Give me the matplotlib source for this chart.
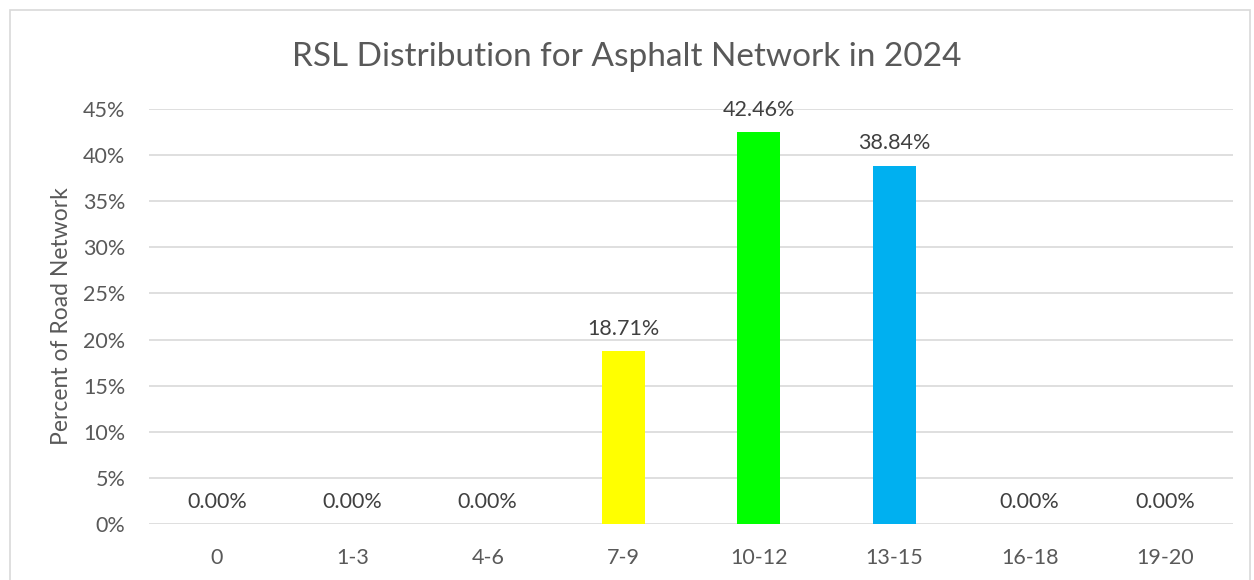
import matplotlib
matplotlib.use("Agg")
import matplotlib.pyplot as plt
from matplotlib.patches import Rectangle
from matplotlib.ticker import FuncFormatter, MultipleLocator

categories = ["0", "1-3", "4-6", "7-9", "10-12", "13-15", "16-18", "19-20"]
values = [0.00, 0.00, 0.00, 18.71, 42.46, 38.84, 0.00, 0.00]
colors = ["#4472C4", "#4472C4", "#4472C4", "#FFFF00", "#00FF00", "#00B0F0", "#4472C4", "#4472C4"]
title = "RSL Distribution for Asphalt Network in 2024"
ylabel = "Percent of Road Network"

plt.rcParams['font.family'] = ['Lato', 'DejaVu Sans']
txt = "#595959"

W, H = 1254, 580
fig = plt.figure(figsize=(W / 100, H / 100), dpi=100)
fig.patch.set_facecolor("white")
fig.patches.append(Rectangle((10 / W, -0.1), (1250 - 10) / W, (H - 10) / H + 0.1,
                             transform=fig.transFigure, fill=False, edgecolor="#D9D9D9", lw=1.2))

left, right, top, bottom = 149, 1233, 109, 524
ax = fig.add_axes([left / W, 1 - bottom / H, (right - left) / W, (bottom - top) / H])
x = list(range(len(categories)))
ax.bar(x, values, width=0.32, color=colors, zorder=3)
ax.set_xlim(-0.5, len(categories) - 0.5)
ax.set_ylim(0, 45)
ax.yaxis.set_major_locator(MultipleLocator(5))
ax.yaxis.set_major_formatter(FuncFormatter(lambda v, p: f"{v:.0f}%"))
ax.grid(axis="y", color="#D9D9D9", lw=1.2, zorder=0)
ax.set_axisbelow(True)
for s in ax.spines.values():
    s.set_visible(False)
ax.tick_params(length=0, colors=txt, labelsize=15.5)
ax.tick_params(axis="y", pad=17)
ax.tick_params(axis="x", pad=17)
ax.set_xticks(x)
ax.set_xticklabels(categories)
for xi, v in zip(x, values):
    ax.annotate(f"{v:.2f}%", (xi, v), xytext=(0, 9), textcoords="offset points",
                ha="center", va="bottom", color="#404040", fontsize=15.5)
ax.set_ylabel(ylabel, color=txt, fontsize=16.5, labelpad=8)
fig.text(0.5, 1 - 57 / H, title, ha="center", va="center", color=txt, fontsize=24)
fig.savefig("out.png", dpi=100)
